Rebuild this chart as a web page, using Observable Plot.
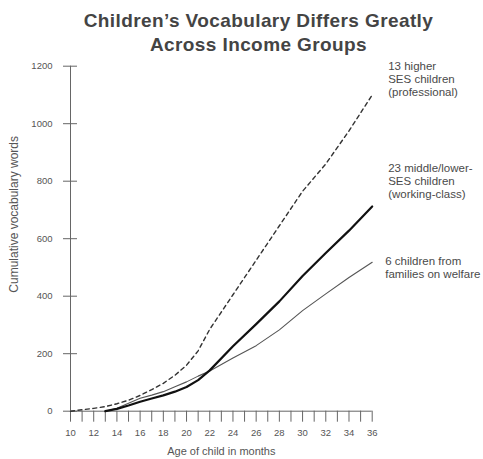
<!DOCTYPE html>
<html>
<head>
<meta charset="utf-8">
<script src="https://cdn.jsdelivr.net/npm/d3@7"></script>
<script src="https://cdn.jsdelivr.net/npm/@observablehq/plot@0.6"></script>
<style>
  html, body { margin: 0; padding: 0; background: #fff; }
  #title { box-sizing: border-box; width: 483px; height: 58px; padding: 9px 0 0 34px; text-align: center;
    font: bold 19px "Liberation Sans", Arial, sans-serif; letter-spacing: 0.4px; line-height: 24px; color: #444; }
  #chart svg { overflow: visible; display: block; }
</style>
</head>
<body>
<div id="title">Children’s Vocabulary Differs Greatly<br>Across Income Groups</div>
<div id="chart"></div>
<script>
// Professional (13 higher SES children) – dashed
const monthsProf = [10, 11, 12, 13, 14, 15, 16, 17, 18, 19, 20, 21, 22, 24, 26, 28, 30, 32, 34, 36];
const vocabProf  = [0, 5, 10, 16, 26, 38, 55, 75, 97, 125, 160, 210, 285, 405, 525, 645, 765, 860, 975, 1100];
// Working-class (23 middle/lower SES children) – thick solid
const monthsWork = [13, 14, 15, 16, 17, 18, 19, 20, 21, 22, 24, 26, 28, 30, 32, 34, 36];
const vocabWork  = [0, 8, 20, 33, 44, 55, 68, 84, 108, 142, 226, 303, 382, 470, 550, 628, 712];
// Welfare (6 children) – thin solid
const monthsWelf = [13, 14, 15, 16, 17, 18, 19, 20, 21, 22, 24, 26, 28, 30, 32, 34, 36];
const vocabWelf  = [0, 10, 28, 45, 56, 68, 85, 102, 122, 140, 185, 228, 283, 350, 408, 465, 518];

const xTicks = d3.range(10, 37);
const yTicks = [0, 200, 400, 600, 800, 1000, 1200];
const labelProf = "13 higher\nSES children\n(professional)";
const labelWork = "23 middle/lower-\nSES children\n(working-class)";
const labelWelf = "6 children from\nfamilies on welfare";

const prof = monthsProf.map((m, i) => ({month: m, words: vocabProf[i]}));
const work = monthsWork.map((m, i) => ({month: m, words: vocabWork[i]}));
const welf = monthsWelf.map((m, i) => ({month: m, words: vocabWelf[i]}));
const last = a => [a[a.length - 1]];

const font = "Liberation Sans, Arial, sans-serif";
const grey = "#555";
const labelStyle = {x: "month", y: "words", textAnchor: "start", lineAnchor: "top",
  lineHeight: 1.15, fill: "#4a4a4a", fontSize: 11.5};

const chart = Plot.plot({
  width: 483,
  height: 401,
  marginLeft: 70,
  marginRight: 111.3,
  marginTop: 7.7,
  marginBottom: 48.3,
  style: {fontFamily: font, fontSize: "9px", color: grey, background: "transparent"},
  x: {domain: [10, 36]},
  y: {domain: [0, 1200]},
  marks: [
    // axis lines
    Plot.ruleX([10], {stroke: "#666", strokeWidth: 1}),
    Plot.ruleY([0], {stroke: "#666", strokeWidth: 1}),
    // y ticks crossing the axis
    Plot.ruleY(yTicks, {x1: 10, x2: 10, insetLeft: -7, insetRight: -7, stroke: "#666"}),
    Plot.axisY({ticks: yTicks, tickSize: 0, tickPadding: 18, tickFormat: d => String(d),
      label: null, fill: grey, fontSize: 9.5}),
    Plot.axisX({ticks: xTicks, tickSize: 11, tickPadding: 7, stroke: "#666",
      tickFormat: d => (d % 2 === 0 ? String(d) : ""), label: null, fill: grey, fontSize: 9.5}),
    // series
    Plot.line(welf, {x: "month", y: "words", stroke: "#555", strokeWidth: 1.1}),
    Plot.line(work, {x: "month", y: "words", stroke: "#111", strokeWidth: 2.2}),
    Plot.line(prof, {x: "month", y: "words", stroke: "#333", strokeWidth: 1.4, strokeDasharray: "4,3.5"}),
    // series labels
    Plot.text(last(prof), {...labelStyle, text: () => labelProf, dx: 16, dy: -34.5}),
    Plot.text(last(work), {...labelStyle, text: () => labelWork, dx: 16, dy: -44}),
    Plot.text(last(welf), {...labelStyle, text: () => labelWelf, dx: 13, dy: -7}),
    // axis titles
    Plot.text(["Cumulative vocabulary words"], {frameAnchor: "left", dx: -56, dy: 54, rotate: -90,
      fill: grey, fontSize: 12}),
    Plot.text(["Age of child in months"], {frameAnchor: "bottom", dy: 44, fill: grey, fontSize: 11})
  ]
});
document.getElementById("chart").appendChild(chart);
</script>
</body>
</html>
